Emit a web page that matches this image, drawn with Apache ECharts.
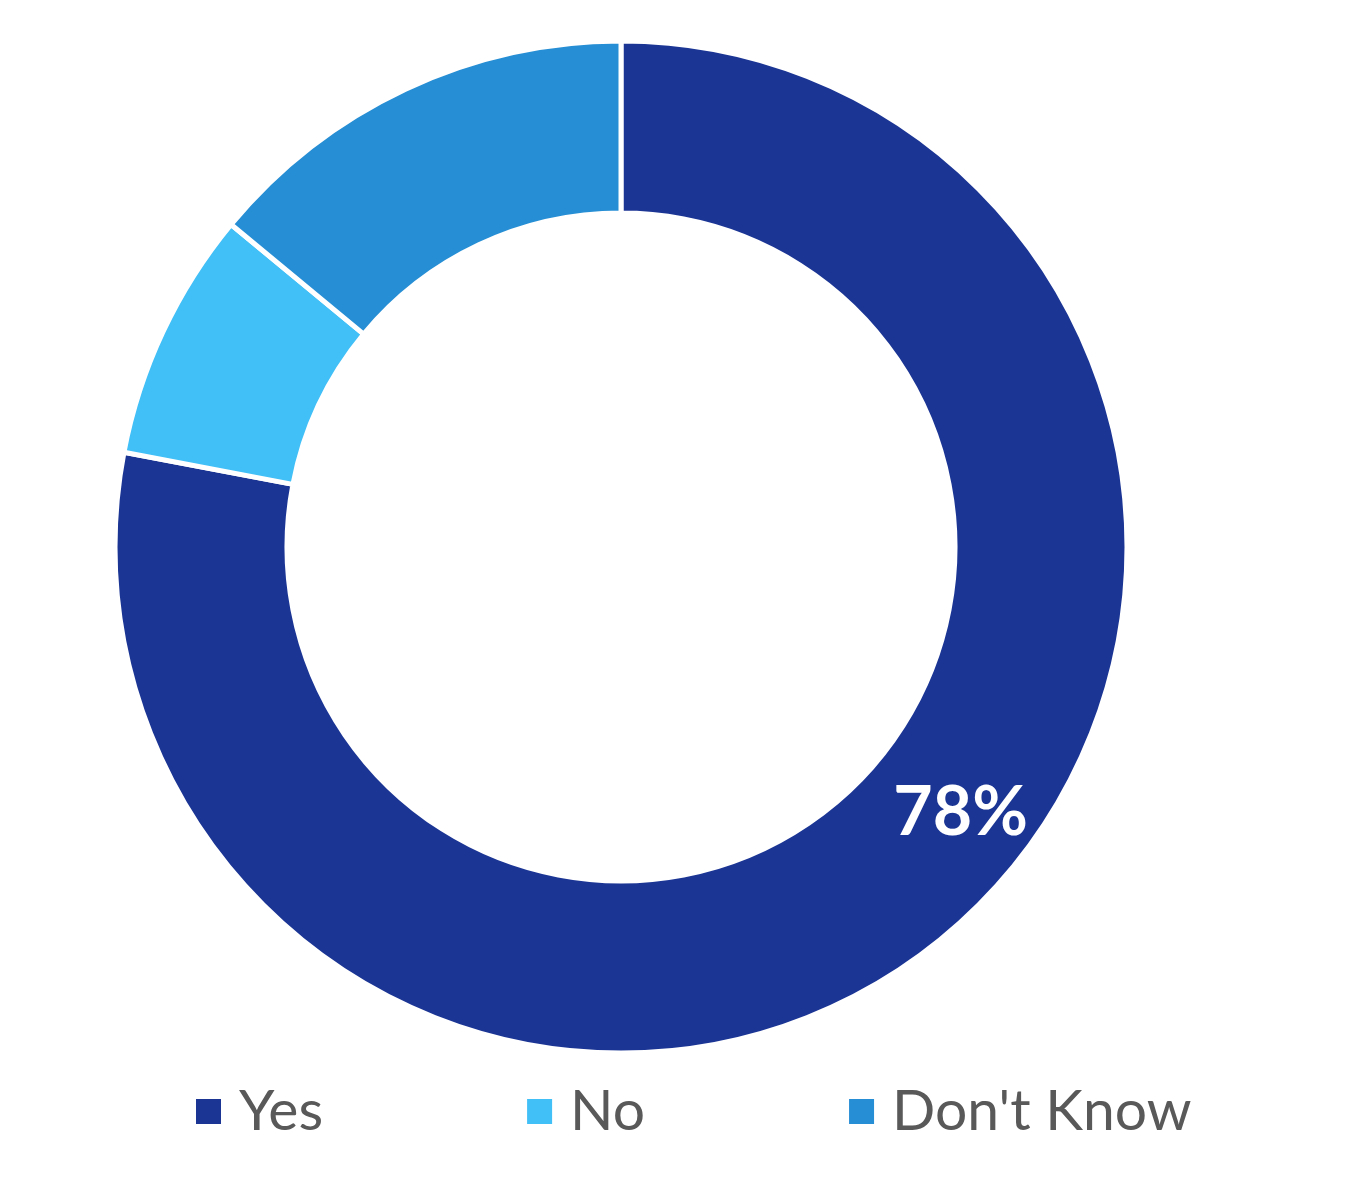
<!DOCTYPE html>
<html>
<head>
<meta charset="utf-8">
<script src="https://cdn.jsdelivr.net/npm/echarts@6/dist/echarts.min.js"></script>
<style>
html,body{margin:0;padding:0;background:#fff;}
#chart{width:1350px;height:1181px;}
</style>
</head>
<body>
<div id="chart"></div>
<script>
const categories = ["Yes", "No", "Don't Know"];
const values = [78, 8, 14];
const colors = ["#1B3595", "#41BFF7", "#268ED4"];
const shownLabels = ["78%", "", ""];

const chart = echarts.init(document.getElementById('chart'));
chart.setOption({
  backgroundColor: '#ffffff',
  animation: false,
  color: colors,
  legend: {
    bottom: 36,
    left: 189,
    itemWidth: 27,
    itemHeight: 27,
    itemGap: 202,
    icon: 'rect',
    textStyle: { color: '#595959', fontSize: 57, fontFamily: 'Lato', padding: [0, 0, 0, 12] },
    data: categories
  },
  series: [{
    type: 'pie',
    center: [621, 547],
    radius: [334, 506],
    startAngle: 90,
    clockwise: true,
    itemStyle: { borderColor: '#ffffff', borderWidth: 5 },
    label: {
      show: true,
      position: 'inside',
      color: '#ffffff',
      fontSize: 68,
      fontWeight: 'bold',
      fontFamily: 'Lato',
      formatter: p => shownLabels[p.dataIndex]
    },
    labelLine: { show: false },
    labelLayout: p => p.dataIndex === 0 ? { dx: 70, dy: -60 } : {},
    emphasis: { disabled: true },
    data: categories.map((c, i) => ({ name: c, value: values[i] }))
  }]
});
</script>
</body>
</html>
